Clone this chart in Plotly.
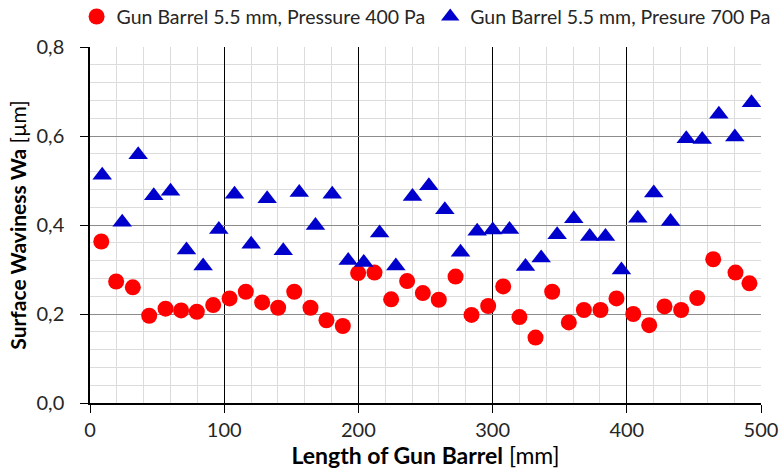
import plotly.graph_objects as go

x_400 = [8.4, 19.5, 31.9, 44.1, 56.3, 67.9, 79.6, 91.8, 104.0, 116.1, 128.3, 140.2, 152.2, 164.3,
         176.2, 188.4, 199.8, 212.0, 224.4, 236.3, 248.0, 259.9, 272.4, 284.3, 296.7, 307.9, 320.0,
         332.0, 344.4, 356.8, 368.0, 380.4, 392.3, 404.8, 416.7, 428.1, 440.5, 452.5, 464.4, 481.0, 491.4]
y_400 = [0.363, 0.273, 0.260, 0.196, 0.212, 0.208, 0.205, 0.220, 0.235, 0.250, 0.226, 0.214, 0.250, 0.214,
         0.186, 0.173, 0.292, 0.293, 0.233, 0.274, 0.247, 0.232, 0.284, 0.198, 0.218, 0.262, 0.193,
         0.147, 0.250, 0.181, 0.209, 0.209, 0.235, 0.200, 0.175, 0.217, 0.209, 0.236, 0.323, 0.293, 0.269]

x_700 = [9.1, 24.0, 35.9, 47.5, 60.0, 71.9, 84.3, 96.0, 107.7, 120.1, 132.0, 144.0, 155.9, 168.0,
         180.5, 192.4, 204.0, 215.8, 227.9, 240.3, 252.5, 264.4, 276.1, 288.5, 300.1, 312.6, 324.5,
         336.2, 348.1, 360.5, 372.4, 384.1, 396.0, 408.2, 420.1, 432.6, 444.3, 456.2, 468.6, 480.5, 492.9]
y_700 = [0.512, 0.406, 0.558, 0.466, 0.476, 0.344, 0.308, 0.390, 0.469, 0.357, 0.459, 0.342, 0.473, 0.399,
         0.469, 0.320, 0.316, 0.382, 0.308, 0.464, 0.488, 0.434, 0.339, 0.386, 0.389, 0.390, 0.307,
         0.326, 0.378, 0.414, 0.374, 0.374, 0.299, 0.415, 0.472, 0.408, 0.594, 0.592, 0.649, 0.598, 0.675]

name_400 = "Gun Barrel 5.5 mm, Pressure 400 Pa"
name_700 = "Gun Barrel 5.5 mm, Presure 700 Pa"

x_ticks = [0, 100, 200, 300, 400, 500]
y_ticks = [0.0, 0.2, 0.4, 0.6, 0.8]
y_tick_text = ["0,0", "0,2", "0,4", "0,6", "0,8"]

FONT = "Lato"

fig = go.Figure()
fig.add_trace(go.Scatter(x=x_400, y=y_400, mode="markers", name=name_400,
                         marker=dict(symbol="circle", size=16, color="#ff0000",
                                     line=dict(width=0))))
fig.add_trace(go.Scatter(x=x_700, y=y_700, mode="markers", name=name_700,
                         marker=dict(symbol="triangle-up", size=17, color="#0000cc",
                                     line=dict(width=0))))

fig.update_layout(
    width=781, height=469,
    margin=dict(l=89.5, r=20, t=47, b=66, autoexpand=False),
    paper_bgcolor="white", plot_bgcolor="white",
    font=dict(family=FONT, size=16, color="#262626"),
    showlegend=True,
    legend=dict(orientation="h", x=-0.02, xanchor="left", y=1.03, yanchor="bottom",
                font=dict(family=FONT, size=19.5, color="#262626"),
                itemsizing="trace", itemwidth=30, tracegroupgap=0,
                bgcolor="rgba(0,0,0,0)"),
    xaxis=dict(range=[0, 500], tickvals=x_ticks, showgrid=True, gridcolor="#000000", gridwidth=1,
               showline=True, linecolor="#000000", linewidth=1.5,
               ticks="outside", ticklen=8, tickcolor="#000000", automargin=False,
               tickfont=dict(family=FONT, size=20, color="#262626"),
               minor=dict(dtick=20, showgrid=True, gridcolor="#dcdcdc", gridwidth=1),
               zeroline=False,
               title=dict(text="<b>Length of Gun Barrel</b> [mm]", standoff=2,
                          font=dict(family=FONT, size=23, color="#000000"))),
    yaxis=dict(range=[0, 0.8], tickvals=y_ticks, ticktext=y_tick_text,
               showgrid=True, gridcolor="#8c8c8c", gridwidth=1,
               showline=True, linecolor="#000000", linewidth=1.5,
               ticks="outside", ticklen=8, tickcolor="#000000", automargin=False,
               ticklabelstandoff=12,
               tickfont=dict(family=FONT, size=20, color="#262626"),
               minor=dict(dtick=0.04, showgrid=True, gridcolor="#dcdcdc", gridwidth=1),
               zeroline=False,
               title=dict(text="<b>Surface Waviness Wa</b> [µm]", standoff=4,
                          font=dict(family=FONT, size=21, color="#000000"))),
)

fig.write_html("out.html")
